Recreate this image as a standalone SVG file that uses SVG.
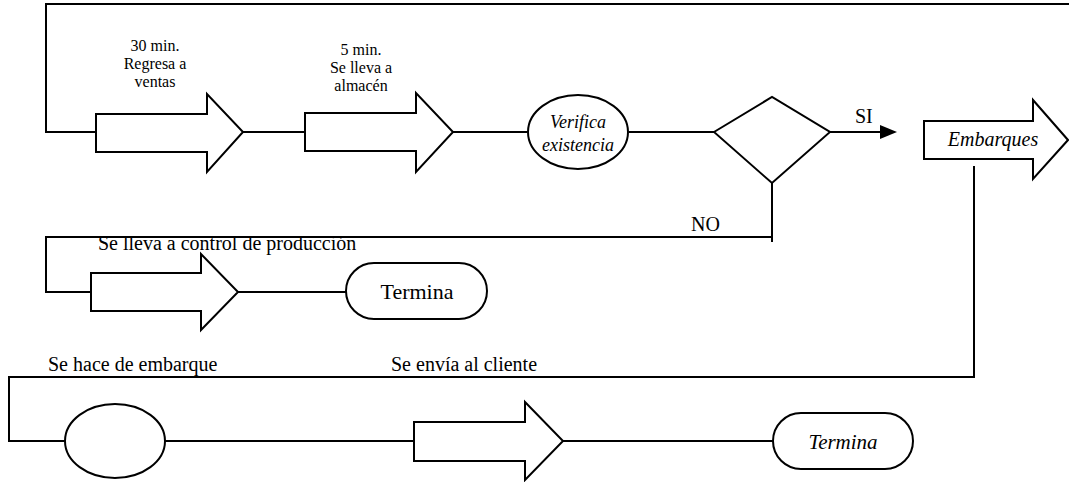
<svg xmlns="http://www.w3.org/2000/svg" width="1069" height="482" viewBox="0 0 1069 482">
<style>
.s{fill:#fff;stroke:#000;stroke-width:2;stroke-linejoin:miter}
.c{fill:none;stroke:#000;stroke-width:2}
.t{font-family:"Liberation Serif",serif;font-size:20px;fill:#000}
.b{font-size:16px}
.m{text-anchor:middle}
.i{font-style:italic}
</style>
<rect width="1069" height="482" fill="#fff"/>
<g id="connectors">
<polyline class="c" points="96,132 46,132 46,4 1069,4"/>
<line class="c" x1="243" y1="132" x2="305" y2="132"/>
<line class="c" x1="453" y1="132" x2="527" y2="132"/>
<line class="c" x1="629" y1="132" x2="714" y2="132"/>
<line class="c" x1="830" y1="132" x2="882" y2="132"/>
<polygon points="880,125 897,132 880,139" fill="#000"/>
<polyline class="c" points="772,183 772,242"/>
<polyline class="c" points="772,237 46,237 46,292 91,292"/>
<line class="c" x1="238" y1="292" x2="346" y2="292"/>
<polyline class="c" points="974,166 974,377 9,377 9,441 65,441"/>
<line class="c" x1="165" y1="441" x2="414" y2="441"/>
<line class="c" x1="563" y1="441" x2="773" y2="441"/>
<text class="t" x="855" y="123">SI</text>
<text class="t" x="691" y="231">NO</text>
</g>
<g id="n1">
<polygon class="s" points="96,114 207,114 207,94 243,132 207,172 207,152 96,152"/>
<text class="t b m" x="155" y="51">30 min.</text>
<text class="t b m" x="155" y="69">Regresa a</text>
<text class="t b m" x="155" y="87">ventas</text>
</g>
<g id="n2">
<polygon class="s" points="305,113 416,113 416,93 453,132 416,172 416,151 305,151"/>
<text class="t b m" x="361" y="55">5 min.</text>
<text class="t b m" x="361" y="73">Se lleva a</text>
<text class="t b m" x="361" y="91">almacén</text>
</g>
<g id="n3">
<ellipse class="s" cx="578" cy="132" rx="50" ry="37"/>
<text class="t m i" x="578" y="128" style="font-size:18px">Verifica</text>
<text class="t m i" x="578" y="151" style="font-size:18px">existencia</text>
</g>
<g id="n4">
<polygon class="s" points="714,132 772,97 830,132 772,183"/>
</g>
<g id="n5">
<polygon class="s" points="924,121 1033,121 1033,100 1068,140 1033,179 1033,159 924,159"/>
<text class="t m i" x="993" y="146">Embarques</text>
</g>
<g id="n6">
<polygon class="s" points="91,273 201,273 201,254 238,292 201,330 201,311 91,311"/>
<text class="t" x="98" y="250">Se lleva a control de producción</text>
</g>
<g id="n7">
<rect class="s" x="346" y="263" width="141" height="56" rx="28" ry="28"/>
<text class="t m" x="417" y="299" style="font-size:22px">Termina</text>
</g>
<g id="n8">
<ellipse class="s" cx="115" cy="441" rx="50" ry="37"/>
<text class="t" x="48" y="371">Se hace de embarque</text>
</g>
<g id="n9">
<polygon class="s" points="414,422 525,422 525,402 563,441 525,480 525,461 414,461"/>
<text class="t" x="391" y="371">Se envía al cliente</text>
</g>
<g id="n10">
<rect class="s" x="773" y="413" width="140" height="56" rx="28" ry="28"/>
<text class="t m i" x="843" y="449" style="font-size:21px">Termina</text>
</g>
</svg>
